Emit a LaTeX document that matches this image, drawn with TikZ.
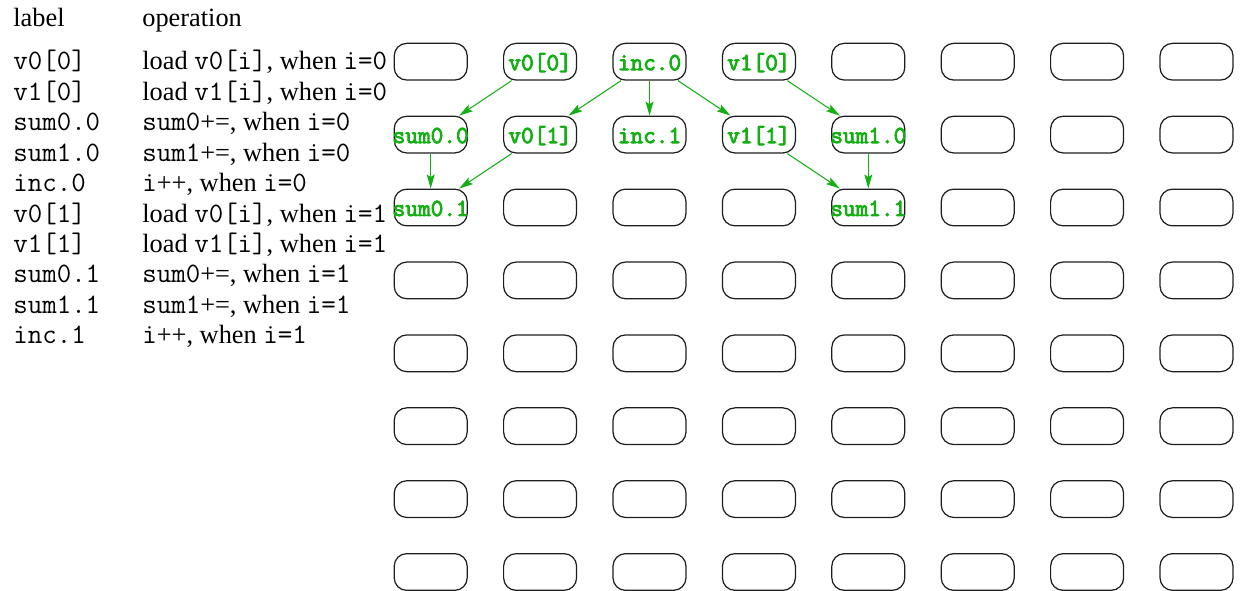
\documentclass[tikz,border=0pt]{standalone}
\usepackage{fontspec}
\setmainfont{Liberation Serif}
\newfontfamily\tbltt{Latin Modern Mono}
\newfontfamily\celltt{Latin Modern Mono}[FakeBold=3.5]
\newcommand{\tm}[1]{{\fontsize{16}{18}\selectfont\tbltt #1}}
\usetikzlibrary{arrows.meta}
\definecolor{dgreen}{RGB}{20,175,20}
\definecolor{boxline}{RGB}{30,30,30}
\tikzset{
  cell/.style={draw=boxline, line width=0.7pt, rounded corners=0.25cm, minimum width=1.46cm, minimum height=0.734cm, inner sep=0pt},
  celltext/.style={text=dgreen, font=\fontsize{14}{16}\selectfont\celltt, inner sep=0pt, anchor=base, yshift=-0.17cm},
  tbl/.style={anchor=base west, inner sep=0pt, font=\fontsize{15}{18}\selectfont},
  dep/.style={draw=dgreen, line width=0.6pt, -{Stealth[length=8pt,width=4.5pt,inset=1.5pt]}}
}
\begin{document}
\begin{tikzpicture}[x=0.02cm,y=-0.02cm]
\useasboundingbox (0,0) rectangle (1243,591);
% table
\node[tbl] (hlabel) at (13,26.7) {label};
\node[tbl] (hop) at (142,26.7) {operation};
\node[tbl] (l0) at (13,70.0) {\tm{v0[0]}};
\node[tbl] (o0) at (142,70.0) {load \tm{v0[i]}, when \tm{i=0}};
\node[tbl] (l1) at (13,100.4) {\tm{v1[0]}};
\node[tbl] (o1) at (142,100.4) {load \tm{v1[i]}, when \tm{i=0}};
\node[tbl] (l2) at (13,130.8) {\tm{sum0.0}};
\node[tbl] (o2) at (142,130.8) {\tm{sum0}+=, when \tm{i=0}};
\node[tbl] (l3) at (13,161.2) {\tm{sum1.0}};
\node[tbl] (o3) at (142,161.2) {\tm{sum1}+=, when \tm{i=0}};
\node[tbl] (l4) at (13,191.6) {\tm{inc.0}};
\node[tbl] (o4) at (142,191.6) {\tm{i}++, when \tm{i=0}};
\node[tbl] (l5) at (13,222.0) {\tm{v0[1]}};
\node[tbl] (o5) at (142,222.0) {load \tm{v0[i]}, when \tm{i=1}};
\node[tbl] (l6) at (13,252.4) {\tm{v1[1]}};
\node[tbl] (o6) at (142,252.4) {load \tm{v1[i]}, when \tm{i=1}};
\node[tbl] (l7) at (13,282.8) {\tm{sum0.1}};
\node[tbl] (o7) at (142,282.8) {\tm{sum0}+=, when \tm{i=1}};
\node[tbl] (l8) at (13,313.2) {\tm{sum1.1}};
\node[tbl] (o8) at (142,313.2) {\tm{sum1}+=, when \tm{i=1}};
\node[tbl] (l9) at (13,343.6) {\tm{inc.1}};
\node[tbl] (o9) at (142,343.6) {\tm{i}++, when \tm{i=1}};
% grid
\foreach \c in {0,...,7}{
  \foreach \r in {0,...,7}{
    \node[cell] (b\c-\r) at ({430.7+109.4*\c},{61.7+72.9*\r}) {};
  }
}
% labels in cells
\node[celltext] (t-v00) at (b1-0) {\makebox[0pt]{v0[0]}};
\node[celltext] (t-inc0) at (b2-0) {\makebox[0pt]{inc.0}};
\node[celltext] (t-v10) at (b3-0) {\makebox[0pt]{v1[0]}};
\node[celltext] (t-sum00) at (b0-1) {\makebox[0pt]{sum0.0}};
\node[celltext] (t-v01) at (b1-1) {\makebox[0pt]{v0[1]}};
\node[celltext] (t-inc1) at (b2-1) {\makebox[0pt]{inc.1}};
\node[celltext] (t-v11) at (b3-1) {\makebox[0pt]{v1[1]}};
\node[celltext] (t-sum10) at (b4-1) {\makebox[0pt]{sum1.0}};
\node[celltext] (t-sum01) at (b0-2) {\makebox[0pt]{sum0.1}};
\node[celltext] (t-sum11) at (b4-2) {\makebox[0pt]{sum1.1}};
% dependencies
\draw[dep] (b1-0) -- (b0-1);
\draw[dep] (b2-0) -- (b1-1);
\draw[dep] (b2-0) -- (b2-1);
\draw[dep] (b2-0) -- (b3-1);
\draw[dep] (b3-0) -- (b4-1);
\draw[dep] (b0-1) -- (b0-2);
\draw[dep] (b1-1) -- (b0-2);
\draw[dep] (b3-1) -- (b4-2);
\draw[dep] (b4-1) -- (b4-2);
\end{tikzpicture}
\end{document}
